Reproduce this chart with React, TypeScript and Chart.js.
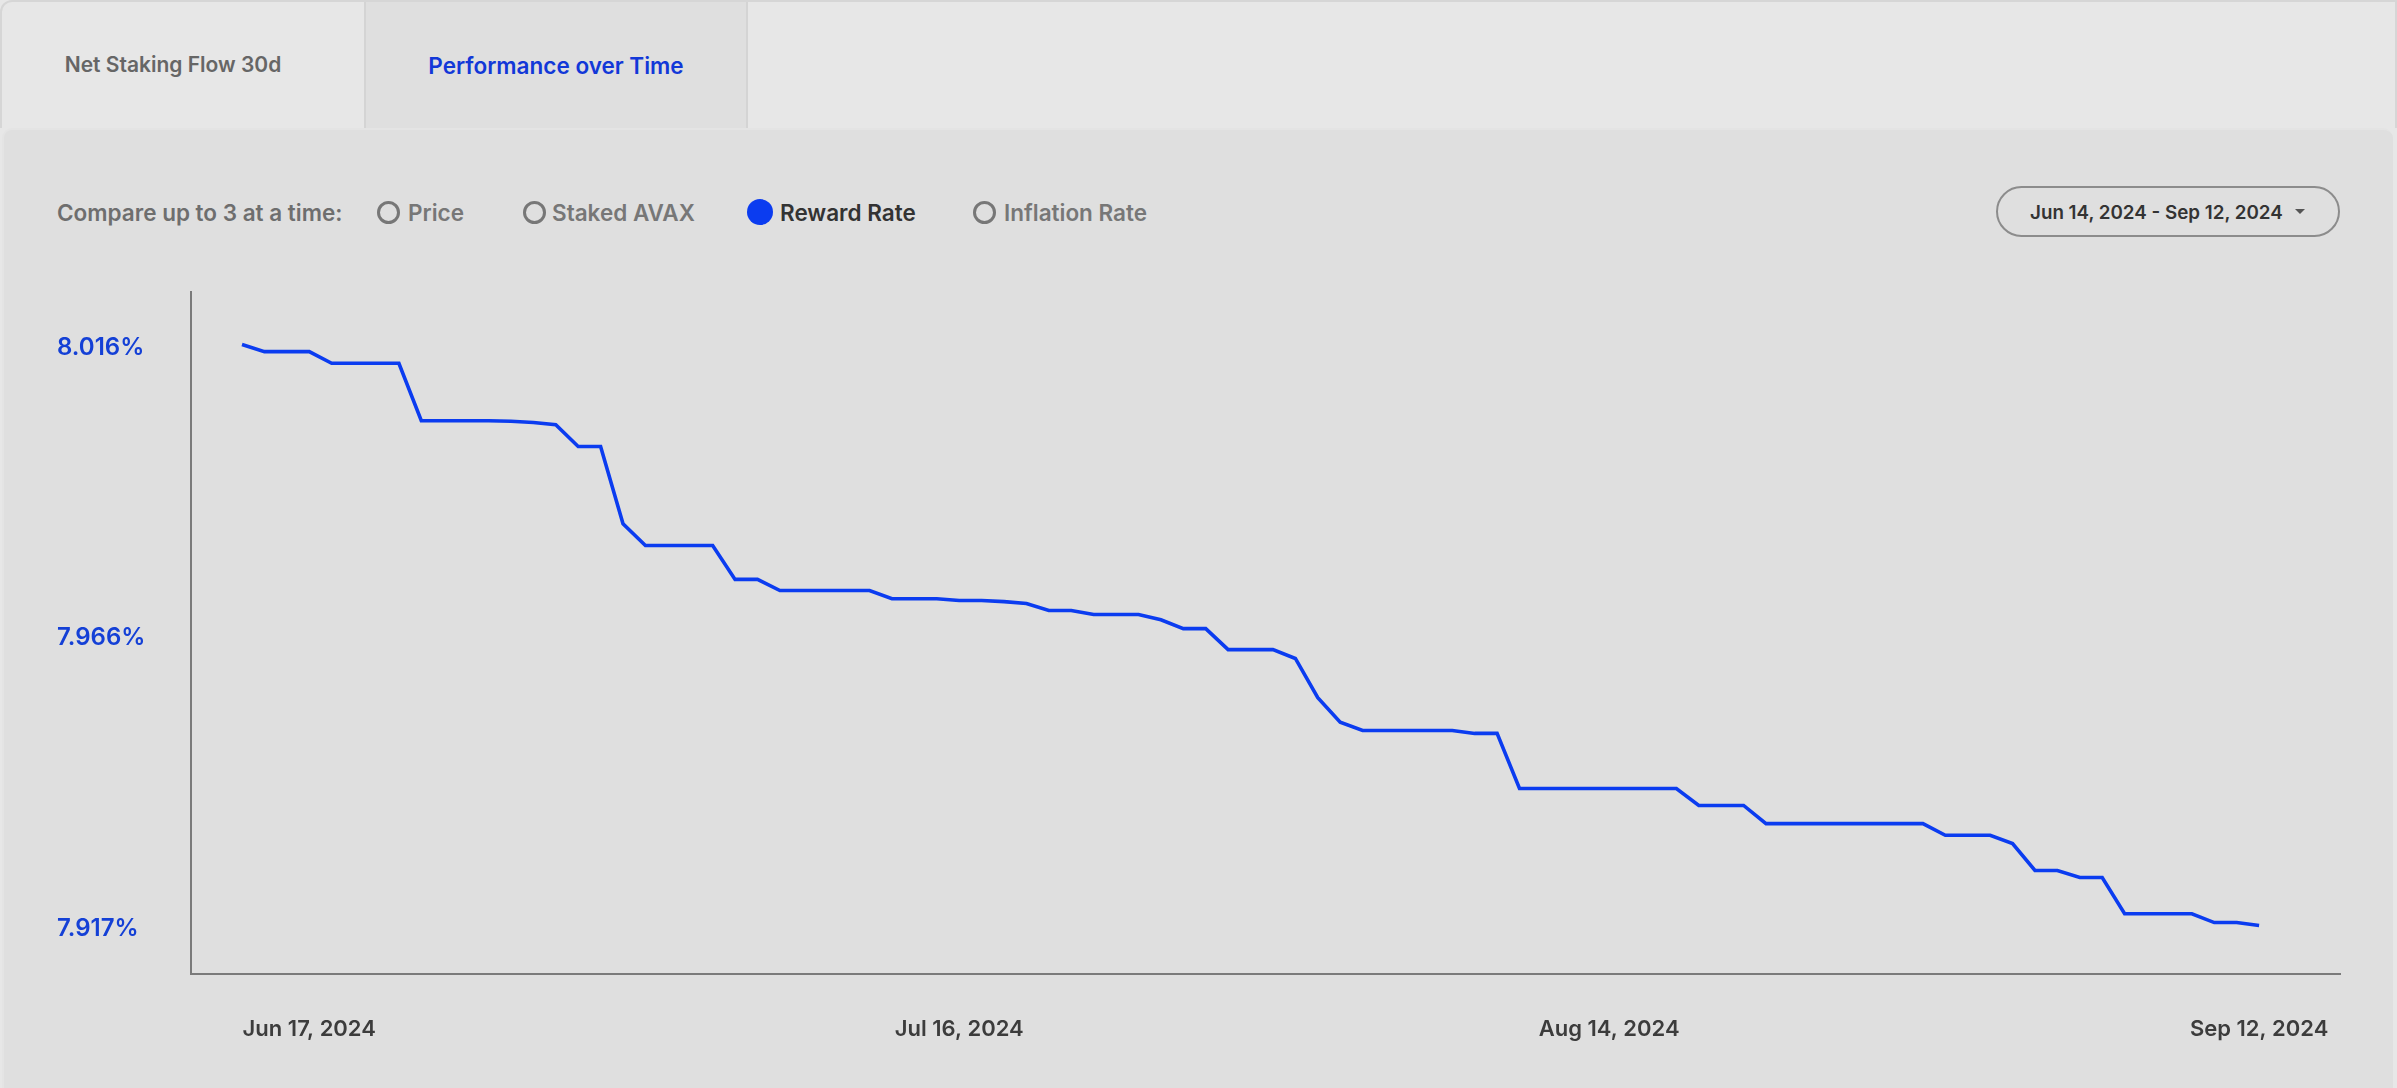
import React, { useEffect, useRef } from "react";
import { Chart, registerables } from "chart.js";

Chart.register(...registerables);

// ---- Data ----
const tabs = ["Net Staking Flow 30d", "Performance over Time"];
const compareOptions = ["Price", "Staked AVAX", "Reward Rate", "Inflation Rate"];
const selectedOption = "Reward Rate";
const dateRangeLabel = "Jun 14, 2024 - Sep 12, 2024";

// Daily reward rate (%), Jun 14, 2024 (index 0) .. Sep 12, 2024 (index 90)
const rewardRate = [
  8.016, 8.0148, 8.0148, 8.0148, 8.0128, 8.0128, 8.0128, 8.0128, 8.003, 8.003,
  8.003, 8.003, 8.0029, 8.0027, 8.0023, 7.9986, 7.9986, 7.9854, 7.9817, 7.9817,
  7.9817, 7.9817, 7.9759, 7.9759, 7.974, 7.974, 7.974, 7.974, 7.974, 7.9726,
  7.9726, 7.9726, 7.9723, 7.9723, 7.9721, 7.9718, 7.9706, 7.9706, 7.9699, 7.9699,
  7.9699, 7.969, 7.9675, 7.9675, 7.9639, 7.9639, 7.9639, 7.9624, 7.9557, 7.9515,
  7.9501, 7.9501, 7.9501, 7.9501, 7.9501, 7.9496, 7.9496, 7.9402, 7.9402, 7.9402,
  7.9402, 7.9402, 7.9402, 7.9402, 7.9402, 7.9373, 7.9373, 7.9373, 7.9342, 7.9342,
  7.9342, 7.9342, 7.9342, 7.9342, 7.9342, 7.9342, 7.9322, 7.9322, 7.9322, 7.9308,
  7.9262, 7.9262, 7.925, 7.925, 7.9188, 7.9188, 7.9188, 7.9188, 7.9173, 7.9173,
  7.9168,
];

const xTickIndex = [3, 32, 61, 90];
const xTickLabels = ["Jun 17, 2024", "Jul 16, 2024", "Aug 14, 2024", "Sep 12, 2024"];

const BLUE = "#0b3cf0";
const LABEL_BLUE = "#1440d6";
const FONT = "Inter, 'Liberation Sans', Arial, sans-serif";

function ChartCanvas() {
  const ref = useRef<HTMLCanvasElement | null>(null);
  useEffect(() => {
    if (!ref.current) return;
    const dMin = Math.min(...rewardRate);
    const dMax = Math.max(...rewardRate);
    const range = dMax - dMin;
    const yTicks = [dMin, (dMin + dMax) / 2, dMax];
    const chart = new Chart(ref.current, {
      type: "line",
      data: {
        datasets: [
          {
            label: selectedOption,
            data: rewardRate.map((v, i) => ({ x: i, y: v })),
            borderColor: BLUE,
            borderWidth: 3.6,
            pointRadius: 0,
            tension: 0,
            fill: false,
          },
        ],
      },
      options: {
        animation: false,
        responsive: false,
        maintainAspectRatio: false,
        layout: { padding: { left: 57, right: 57, top: 22, bottom: 0 } },
        plugins: { legend: { display: false }, tooltip: { enabled: false } },
        scales: {
          x: {
            type: "linear",
            min: -2.276,
            max: 93.61,
            grid: { display: false, drawTicks: false },
            border: { display: true, color: "#7a7a7a", width: 2 },
            afterBuildTicks: (scale: any) => {
              scale.ticks = xTickIndex.map((v) => ({ value: v }));
            },
            afterFit: (scale: any) => {
              scale.height = 114;
            },
            ticks: {
              autoSkip: false,
              maxRotation: 0,
              padding: 42,
              color: "#3c3c3c",
              font: { family: FONT, size: 22, weight: "600" },
              callback: (value: any) => {
                const idx = xTickIndex.indexOf(Number(value));
                return idx >= 0 ? xTickLabels[idx] : "";
              },
            },
          },
          y: {
            type: "linear",
            min: dMin - range * 0.0835,
            max: dMax + range * 0.0905,
            grid: { display: false, drawTicks: false },
            border: { display: true, color: "#7a7a7a", width: 2 },
            afterBuildTicks: (scale: any) => {
              scale.ticks = yTicks.map((v) => ({ value: v }));
            },
            afterFit: (scale: any) => {
              scale.width = 134;
            },
            ticks: {
              crossAlign: "far",
              labelOffset: 3,
              color: LABEL_BLUE,
              font: { family: FONT, size: 24, weight: "600" },
              callback: (value: any) => Number(value).toFixed(3) + "%",
            },
          },
        },
      },
    });
    return () => chart.destroy();
  }, []);
  return (
    <canvas
      ref={ref}
      width={2397}
      height={818}
      style={{ position: "absolute", left: 0, top: 270, width: 2397, height: 818 }}
    />
  );
}

export default function App() {
  useEffect(() => {
    document.body.style.margin = "0";
  }, []);

  const radioPos: Record<string, { cx: number; tx: number }> = {
    Price: { cx: 388, tx: 408 },
    "Staked AVAX": { cx: 534, tx: 552 },
    "Reward Rate": { cx: 760, tx: 780 },
    "Inflation Rate": { cx: 984, tx: 1004 },
  };

  return (
    <div
      style={{
        position: "fixed",
        left: 0,
        top: 0,
        width: 2397,
        height: 1088,
        overflow: "hidden",
        background: "#e7e7e7",
        fontFamily: FONT,
      }}
    >
      {/* tab bar */}
      <div
        style={{
          position: "absolute",
          left: 0,
          top: 0,
          width: 2397,
          height: 128,
          boxSizing: "border-box",
          border: "2px solid #d6d6d6",
          borderBottom: "none",
          borderTopLeftRadius: 12,
          background: "#e7e7e7",
        }}
      />
      <div
        style={{
          position: "absolute",
          left: 0,
          top: 0,
          width: 364,
          height: 128,
          boxSizing: "border-box",
          paddingRight: 18,
          display: "flex",
          alignItems: "center",
          justifyContent: "center",
          color: "#666",
          fontSize: 21,
          fontWeight: 600,
        }}
      >
        {tabs[0]}
      </div>
      <div
        style={{
          position: "absolute",
          left: 364,
          top: 2,
          width: 384,
          height: 126,
          boxSizing: "border-box",
          borderLeft: "2px solid #d4d4d4",
          borderRight: "2px solid #d4d4d4",
          background: "#dfdfdf",
          display: "flex",
          alignItems: "center",
          justifyContent: "center",
          color: "#1238d8",
          fontSize: 22.5,
          fontWeight: 600,
        }}
      >
        {tabs[1]}
      </div>

      {/* panel */}
      <div
        style={{
          position: "absolute",
          left: 2,
          top: 128,
          width: 2391,
          height: 970,
          boxSizing: "border-box",
          borderTop: "2px solid #e4e4e4",
          borderLeft: "2px solid #e4e4e4",
          borderTopLeftRadius: 10,
          borderTopRightRadius: 10,
          background: "#dfdfdf",
        }}
      />

      {/* controls */}
      <div
        style={{
          position: "absolute",
          left: 57,
          top: 212,
          transform: "translateY(-50%)",
          color: "#6e6e6e",
          fontSize: 22.5,
          fontWeight: 600,
          whiteSpace: "nowrap",
        }}
      >
        Compare up to 3 at a time:
      </div>
      {compareOptions.map((opt) => {
        const p = radioPos[opt];
        const sel = opt === selectedOption;
        const r = sel ? 13 : 11.5;
        return (
          <React.Fragment key={opt}>
            <div
              style={{
                position: "absolute",
                left: p.cx - r,
                top: 212 - r,
                width: r * 2,
                height: r * 2,
                boxSizing: "border-box",
                borderRadius: "50%",
                border: sel ? "none" : "3px solid #777",
                background: sel ? BLUE : "transparent",
              }}
            />
            <div
              style={{
                position: "absolute",
                left: p.tx,
                top: 212,
                transform: "translateY(-50%)",
                color: sel ? "#333" : "#777",
                fontSize: 22.5,
                fontWeight: 600,
                whiteSpace: "nowrap",
              }}
            >
              {opt}
            </div>
          </React.Fragment>
        );
      })}

      {/* date range pill */}
      <div
        style={{
          position: "absolute",
          left: 1996,
          top: 186,
          width: 344,
          height: 51,
          boxSizing: "border-box",
          border: "2px solid #8c8c8c",
          borderRadius: 26,
        }}
      />
      <div
        style={{
          position: "absolute",
          left: 2030,
          top: 212,
          transform: "translateY(-50%)",
          color: "#333",
          fontSize: 18.8,
          fontWeight: 600,
          whiteSpace: "nowrap",
        }}
      >
        {dateRangeLabel}
      </div>
      <div
        style={{
          position: "absolute",
          left: 2295,
          top: 209,
          width: 0,
          height: 0,
          borderLeft: "5px solid transparent",
          borderRight: "5px solid transparent",
          borderTop: "5px solid #555",
        }}
      />

      <ChartCanvas />
    </div>
  );
}
